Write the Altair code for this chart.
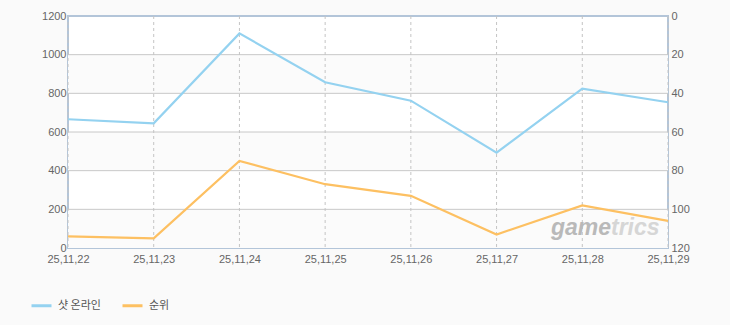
import altair as alt
import pandas as pd

dates = ["25,11,22", "25,11,23", "25,11,24", "25,11,25", "25,11,26", "25,11,27", "25,11,28", "25,11,29"]
online = [666, 645, 1110, 857, 762, 493, 824, 754]
rank = [114, 115, 75, 87, 93, 113, 98, 106]
series_names = ["샷 온라인", "순위"]
colors = ["#94d2f0", "#fdc062"]
left_ticks = [0, 200, 400, 600, 800, 1000, 1200]
right_ticks = [0, 20, 40, 60, 80, 100, 120]
band_lo = [0, 400, 800]
band_hi = [200, 600, 1000]
grid_vals = [200, 400, 600, 800, 1000]

df_on = pd.DataFrame({"date": dates, "value": online, "series": series_names[0]})
df_rk = pd.DataFrame({"date": dates, "rank": rank, "series": series_names[1]})
df_band = pd.DataFrame({"lo": band_lo, "hi": band_hi})
df_grid = pd.DataFrame({"v": grid_vals})
df_vgrid = pd.DataFrame({"date": dates})

FONT = "Liberation Sans"
xscale = alt.Scale(type="point", domain=dates, padding=0)
yscale = alt.Scale(domain=[0, 1200], nice=False, zero=True)
left_axis = alt.Axis(values=left_ticks, format="d", grid=False, domain=False, ticks=False,
                     labelColor="#666666", labelFont=FONT, labelFontSize=11,
                     labelPadding=2, title=None)
x_axis = alt.Axis(grid=False, domain=False, ticks=False, labelAngle=0,
                  labelColor="#666666", labelFont=FONT, labelFontSize=11,
                  labelPadding=5, title=None)
color_scale = alt.Scale(domain=series_names, range=colors)
legend = alt.Legend(orient="none", legendX=-38, legendY=278, direction="horizontal",
                    symbolType="stroke", symbolStrokeWidth=3, symbolSize=400,
                    labelFont="Noto Sans CJK KR", labelFontSize=11, labelColor="#555555",
                    columnPadding=15, labelOffset=5, title=None)

bands = alt.Chart(df_band).mark_rect(color="#fbfbfb").encode(
    y=alt.Y("lo:Q", scale=yscale, axis=left_axis),
    y2="hi:Q",
)
hgrid = alt.Chart(df_grid).mark_rule(color="#c8c8c8", strokeWidth=1).encode(
    y=alt.Y("v:Q", scale=yscale, axis=left_axis),
)
vgrid = alt.Chart(df_vgrid).mark_rule(color="#c4c4c4", strokeWidth=1, strokeDash=[3, 3]).encode(
    x=alt.X("date:N", scale=xscale, axis=x_axis, sort=dates),
)
blue = alt.Chart(df_on).mark_line(strokeWidth=2.2).encode(
    x=alt.X("date:N", scale=xscale, axis=x_axis, sort=dates),
    y=alt.Y("value:Q", scale=yscale, axis=left_axis),
    color=alt.Color("series:N", scale=color_scale, legend=legend),
)
left_layer = alt.layer(bands, hgrid, vgrid, blue)

orange = alt.Chart(df_rk).mark_line(strokeWidth=2.2).encode(
    x=alt.X("date:N", scale=xscale, axis=x_axis, sort=dates),
    y=alt.Y("rank:Q", scale=alt.Scale(domain=[0, 120], reverse=True, nice=False),
            axis=alt.Axis(orient="right", values=right_ticks, grid=False, domain=False,
                          ticks=False, labelColor="#666666", labelFont=FONT,
                          labelFontSize=11, labelPadding=3, title=None)),
    color=alt.Color("series:N", scale=color_scale, legend=legend),
)

wm1 = alt.Chart(pd.DataFrame({"t": ["game"]})).mark_text(
    font=FONT, fontSize=23, fontStyle="italic", fontWeight="bold",
    color="#b9b9b9", align="right", baseline="middle"
).encode(text="t:N", x=alt.value(543), y=alt.value(212))
wm2 = alt.Chart(pd.DataFrame({"t": ["trics"]})).mark_text(
    font=FONT, fontSize=23, fontStyle="italic", fontWeight="bold",
    color="#d6d6d6", align="left", baseline="middle"
).encode(text="t:N", x=alt.value(543), y=alt.value(212))

chart = alt.layer(left_layer, orange, wm1, wm2).resolve_scale(y="independent").properties(
    width=600, height=232,
    autosize=alt.AutoSizeParams(type="none"),
    padding={"left": 68, "top": 16, "right": 62, "bottom": 77},
    background="#fafafa",
).configure_view(stroke="#b3c5d9", strokeWidth=2, fill="white")

chart.save("out.html", embed_options={"renderer": "svg", "actions": False})
